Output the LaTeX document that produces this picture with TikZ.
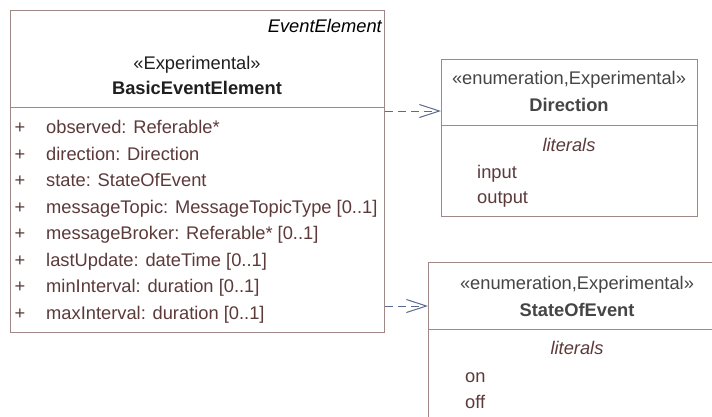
\documentclass[tikz,border=0pt]{standalone}
\usepackage{fontspec}
\setmainfont{Liberation Sans}
\usetikzlibrary{arrows.meta}
\definecolor{boxline}{HTML}{A08888}
\definecolor{attr}{HTML}{5C3A3A}
\definecolor{hdr}{HTML}{454545}
\definecolor{depc}{HTML}{5A6A90}
\newcommand\fs{\fontsize{18.3}{22}\selectfont}
\tikzset{
  umlbox/.style={draw=boxline, line width=1pt, fill=white, anchor=north west, inner sep=0pt},
  divline/.style={draw=boxline, line width=1pt},
  txt/.style={inner sep=0pt, anchor=base, font=\fs},
  attrtxt/.style={txt, anchor=base west, text=attr},
  plus/.style={txt, text=attr},
  dep/.style={draw=depc, line width=1pt, dash pattern=on 8pt off 5pt,
    -{Straight Barb[length=20pt,width=13pt,line width=1pt]}}
}
\begin{document}
\begin{tikzpicture}[x=1pt,y=-1pt]
\useasboundingbox (0,0) rectangle (712,416);
% main class
\node[umlbox, minimum width=374pt, minimum height=322pt] (bee) at (10,10) {};
\draw[divline] (bee.west |- 0,107) -- (bee.east |- 0,107);
\node[txt, anchor=base east, text=black, font=\fs\itshape] (bee-gen) at (382,32.5) {EventElement};
\node[txt, text=black!88] (bee-st) at (197,69.5) {«Experimental»};
\node[txt, text=black!88, font=\fs\bfseries] (bee-name) at (197,94.5) {BasicEventElement};
\foreach \t [count=\i from 0] in {observed: Referable*, direction: Direction, state: StateOfEvent, messageTopic: MessageTopicType [0..1], messageBroker: Referable* [0..1], lastUpdate: dateTime [0..1], minInterval: duration [0..1], maxInterval: duration [0..1]}{
  \node[plus] (bee-p\i) at (20,133.5+26.5*\i) {+};
  \node[attrtxt] (bee-a\i) at (46,133.5+26.5*\i) {\t};
}
% Direction
\node[umlbox, minimum width=256pt, minimum height=157pt] (dir) at (441,59) {};
\draw[divline] (dir.west |- 0,125) -- (dir.east |- 0,125);
\node[txt, text=hdr] (dir-st) at (569,84) {«enumeration,Experimental»};
\node[txt, text=hdr, font=\fs\bfseries] (dir-name) at (569,111) {Direction};
\node[txt, text=attr, font=\fs\itshape] (dir-lit) at (569,151) {literals};
\node[attrtxt] (dir-l1) at (477,178) {input};
\node[attrtxt] (dir-l2) at (477,203) {output};
% StateOfEvent
\node[umlbox, minimum width=298pt, minimum height=180pt] (soe) at (428,262) {};
\draw[divline] (soe.west |- 0,329) -- (soe.east |- 0,329);
\node[txt, text=hdr] (soe-st) at (577,289) {«enumeration,Experimental»};
\node[txt, text=hdr, font=\fs\bfseries] (soe-name) at (577,316) {StateOfEvent};
\node[txt, text=attr, font=\fs\itshape] (soe-lit) at (577,354) {literals};
\node[attrtxt] (soe-l1) at (465,382) {on};
\node[attrtxt] (soe-l2) at (465,408) {off};
% dependencies
\draw[dep] (bee.east |- 0,111) -- (dir.west |- 0,111);
\draw[dep] (bee.east |- 0,306) -- (soe.west |- 0,306);
\end{tikzpicture}
\end{document}
